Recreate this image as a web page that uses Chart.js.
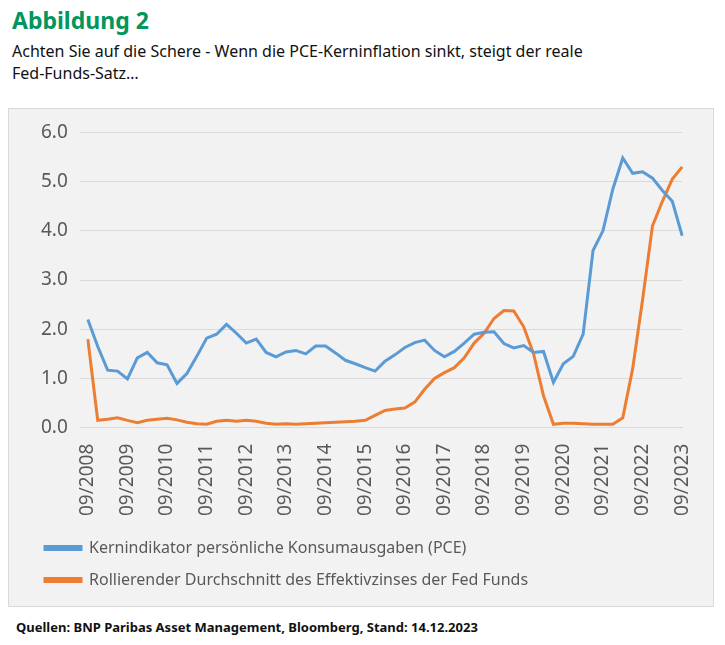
<!DOCTYPE html>
<html>
<head>
<meta charset="utf-8">
<script src="https://cdn.jsdelivr.net/npm/chart.js@4"></script>
<style>
  body { margin: 0; background: #fff; font-family: "Noto Sans", sans-serif; width: 725px; height: 645px; position: relative; }
  #title { position: absolute; left: 12px; top: 4px; font-size: 23px; font-weight: bold; color: #00965e; }
  #sub { position: absolute; left: 12px; top: 40px; width: 690px; font-size: 16px; line-height: 22px; color: #111; }
  #box { position: absolute; left: 8px; top: 108px; width: 704px; height: 497px; background: #f2f2f2; border: 1px solid #d9d9d9; }
  #src { position: absolute; left: 16px; top: 618px; font-size: 13px; font-weight: bold; color: #111; }
</style>
</head>
<body>
<div id="title">Abbildung 2</div>
<div id="sub">Achten Sie auf die Schere - Wenn die PCE-Kerninflation sinkt, steigt der reale<br>Fed-Funds-Satz…</div>
<div id="box"><canvas id="pceChart" width="704" height="497"></canvas></div>
<div id="src">Quellen: BNP Paribas Asset Management, Bloomberg, Stand: 14.12.2023</div>
<script>
  // quarterly values, 09/2008 .. 09/2023
  const pce = [2.2, 1.65, 1.17, 1.15, 0.99, 1.42, 1.53, 1.32, 1.28, 0.9,
    1.1, 1.45, 1.82, 1.9, 2.1, 1.92, 1.72, 1.8, 1.53, 1.44,
    1.54, 1.57, 1.5, 1.66, 1.66, 1.52, 1.37, 1.3, 1.22, 1.15,
    1.35, 1.48, 1.63, 1.73, 1.78, 1.57, 1.44, 1.55, 1.72, 1.9,
    1.94, 1.95, 1.71, 1.62, 1.67, 1.53, 1.55, 0.92, 1.3, 1.45,
    1.9, 3.6, 4.0, 4.85, 5.48, 5.17, 5.2, 5.07, 4.82, 4.6, 3.9];
  const fedFunds = [1.8, 0.15, 0.17, 0.2, 0.15, 0.1, 0.15, 0.17, 0.19, 0.16,
    0.11, 0.08, 0.07, 0.13, 0.15, 0.13, 0.15, 0.13, 0.09, 0.07,
    0.08, 0.07, 0.08, 0.09, 0.1, 0.11, 0.12, 0.13, 0.15, 0.25,
    0.35, 0.38, 0.4, 0.52, 0.78, 1.0, 1.12, 1.22, 1.42, 1.72,
    1.92, 2.22, 2.38, 2.37, 2.05, 1.5, 0.65, 0.07, 0.09, 0.09,
    0.08, 0.07, 0.07, 0.07, 0.2, 1.2, 2.6, 4.1, 4.6, 5.05, 5.3];

  const labels = [];
  for (let i = 0; i < pce.length; i++) {
    const m = 9 + 3 * i;
    const y = 2008 + Math.floor((m - 1) / 12);
    const mm = ((m - 1) % 12) + 1;
    labels.push((mm < 10 ? '0' : '') + mm + '/' + y);
  }

  const ctx = document.getElementById('pceChart').getContext('2d');
  new Chart(ctx, {
    type: 'line',
    data: {
      labels: labels,
      datasets: [{
        label: 'Kernindikator persönliche Konsumausgaben (PCE)',
        data: pce,
        borderColor: '#5b9bd5',
        backgroundColor: '#5b9bd5',
        borderWidth: 3,
        pointRadius: 0,
        tension: 0
      }, {
        label: 'Rollierender Durchschnitt des Effektivzinses der Fed Funds',
        data: fedFunds,
        borderColor: '#ed7d31',
        backgroundColor: '#ed7d31',
        borderWidth: 3,
        pointRadius: 0,
        tension: 0
      }]
    },
    options: {
      responsive: false,
      animation: false,
      layout: { padding: { left: 20, right: 16, top: 14, bottom: 8 } },
      plugins: {
        legend: {
          position: 'bottom',
          align: 'start',
          labels: {
            boxWidth: 36, boxHeight: 3, padding: 16,
            color: '#595959',
            font: { family: 'Noto Sans', size: 16 }
          }
        },
        tooltip: { enabled: false }
      },
      scales: {
        x: {
          grid: { display: false },
          border: { color: '#d9d9d9' },
          ticks: {
            autoSkip: false, minRotation: 90, maxRotation: 90, padding: 8,
            color: '#595959', font: { family: 'Noto Sans', size: 19 },
            callback: function (v, i) { return i % 4 === 0 ? labels[i] : ''; }
          }
        },
        y: {
          min: 0, max: 6,
          grid: { color: '#d9d9d9' },
          border: { display: false },
          ticks: {
            stepSize: 1, color: '#595959', padding: 12,
            font: { family: 'Noto Sans', size: 19 },
            callback: function (v) { return v.toFixed(1); }
          }
        }
      }
    }
  });
</script>
</body>
</html>
